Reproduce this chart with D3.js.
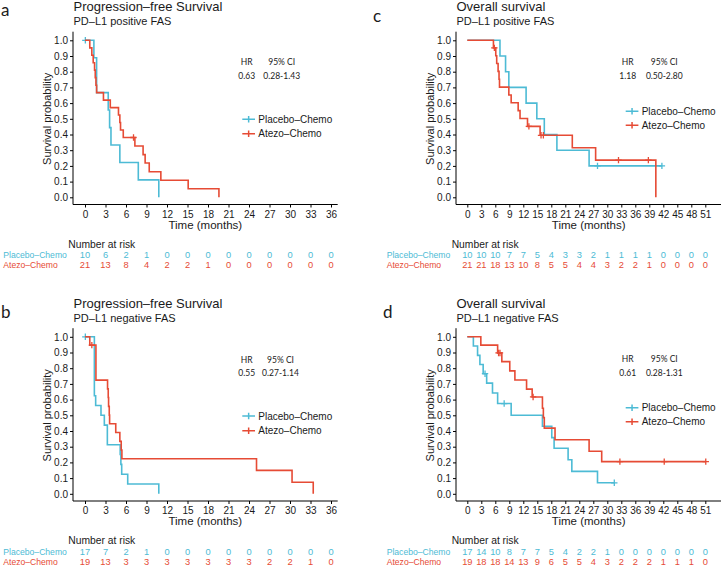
<!DOCTYPE html>
<html><head><meta charset="utf-8">
<script src="https://cdn.jsdelivr.net/npm/d3@7"></script>
<style>
body{margin:0;background:#fff}
svg{display:block}
text{font-family:"Liberation Sans",Arial,Helvetica,sans-serif;fill:#1a1a1a}
.hr{font-family:Lato,"Open Sans",sans-serif}
.letter{font-family:Lato,"Open Sans",sans-serif}
</style>
</head><body>
<svg id="chart" width="721" height="565"></svg>
<script>
// ---------- DATA ----------
const groups = ["Placebo–Chemo", "Atezo–Chemo"];
const groupColors = ["#4DBBD5", "#E64B35"];
const pfsTicks = [0,3,6,9,12,15,18,21,24,27,30,33,36];
const osTicks = [0,3,6,9,12,15,18,21,24,27,30,33,36,39,42,45,48,51];
const survTicks = [0,0.1,0.2,0.3,0.4,0.5,0.6,0.7,0.8,0.9,1.0];

// Panel a: PFS, PD-L1 positive  ([time, survival after step])
const aPlaceboSteps = [[1.3,0.889],[1.7,0.667],[3.4,0.556],[3.6,0.444],[3.8,0.333],[5.1,0.222],[7.8,0.111],[10.8,0]];
const aPlaceboCensor = [0.05];
const aAtezoSteps = [[0.7,0.952],[1.0,0.905],[1.2,0.857],[1.4,0.810],[1.5,0.762],[1.6,0.714],[1.7,0.667],[2.7,0.619],[3.7,0.571],[4.9,0.524],[5.1,0.476],[5.2,0.429],[5.6,0.381],[7.3,0.327],[8.5,0.272],[8.8,0.218],[9.4,0.163],[11.1,0.109],[15.1,0.054],[19.6,0]];
const aAtezoCensor = [7.1];
const aRiskPlacebo = [10,6,2,1,0,0,0,0,0,0,0,0,0];
const aRiskAtezo = [21,13,8,4,2,2,1,0,0,0,0,0,0];
const aHR = ["0.63", "0.28-1.43"];

// Panel b: PFS, PD-L1 negative
const bPlaceboSteps = [[1.37,0.625],[1.56,0.5625],[2.34,0.5],[2.83,0.4375],[3.27,0.3125],[5.15,0.25],[5.25,0.1875],[5.37,0.125],[6.25,0.0625],[10.8,0]];
const bPlaceboCensor = [0.05];
const bAtezoSteps = [[0.7,0.947],[1.6,0.724],[3.3,0.668],[3.4,0.613],[3.45,0.557],[3.55,0.501],[3.6,0.446],[4.5,0.390],[5.1,0.334],[5.3,0.279],[5.4,0.223],[25.1,0.149],[30.3,0.074],[33.4,0]];
const bAtezoCensor = [1.0];
const bRiskPlacebo = [17,7,2,1,0,0,0,0,0,0,0,0,0];
const bRiskAtezo = [19,13,3,3,3,3,3,3,3,2,2,1,0];
const bHR = ["0.55", "0.27-1.14"];

// Panel c: OS, PD-L1 positive
const cPlaceboSteps = [[7.0,0.9],[8.2,0.8],[8.9,0.7],[12.6,0.6],[14.9,0.5],[16.5,0.4],[19.2,0.3],[26.1,0.2]];
const cPlaceboCensor = [27.9, 41.7];
const cAtezoSteps = [[5.6,0.952],[6.1,0.902],[6.3,0.852],[6.6,0.802],[6.8,0.752],[6.9,0.702],[8.9,0.652],[9.4,0.602],[10.9,0.552],[11.3,0.502],[12.9,0.452],[15.6,0.395],[22.5,0.316],[27.5,0.237],[40.4,0]];
const cAtezoCensor = [5.8, 13.2, 15.8, 16.3, 32.4, 38.8];
const cRiskPlacebo = [10,10,10,7,7,5,4,3,3,2,1,1,1,1,0,0,0,0];
const cRiskAtezo = [21,21,18,13,10,8,5,5,4,4,3,2,2,1,0,0,0,0];
const cHR = ["1.18", "0.50-2.80"];

// Panel d: OS, PD-L1 negative
const dPlaceboSteps = [[1.3,0.941],[2.2,0.882],[2.7,0.824],[3.4,0.765],[4.15,0.705],[5.4,0.642],[6.5,0.575],[9.4,0.500],[16.1,0.430],[18.1,0.358],[18.6,0.290],[21.6,0.217],[22.4,0.143],[27.9,0.070]];
const dPlaceboCensor = [3.8, 7.9, 31.5];
const dAtezoSteps = [[2.9,0.947],[6.5,0.897],[7.4,0.842],[9.1,0.783],[10.2,0.725],[12.7,0.667],[13.9,0.617],[16.1,0.545],[16.3,0.485],[16.5,0.418],[18.8,0.344],[26.1,0.271],[28.8,0.205]];
const dAtezoCensor = [6.7, 7.0, 14.1, 32.7, 42.2, 51.1];
const dRiskPlacebo = [17,14,10,8,7,7,5,4,2,2,1,0,0,0,0,0,0,0];
const dRiskAtezo = [19,18,18,14,13,9,6,5,5,4,3,2,2,2,1,1,1,0];
const dHR = ["0.61", "0.28-1.31"];

// ---------- LAYOUT ----------
const panels = [
  {letter:"a", title:"Progression–free Survival", sub:"PD–L1 positive FAS", ticks:pfsTicks,
   steps:[aPlaceboSteps,aAtezoSteps], censor:[aPlaceboCensor,aAtezoCensor], risk:[aRiskPlacebo,aRiskAtezo], hr:aHR,
   oy:0, axL:73, axR:337.7, xr:[85,331], timeX:205.3, letterXY:[1,16], hrX:[246.7,281.7], hrY:[61.7,76], legX:242.3, legY:[119.3,133.7], riskLabX:3.3, narX:68.3},
  {letter:"c", title:"Overall survival", sub:"PD–L1 positive FAS", ticks:osTicks,
   steps:[cPlaceboSteps,cAtezoSteps], censor:[cPlaceboCensor,cAtezoCensor], risk:[cRiskPlacebo,cRiskAtezo], hr:cHR,
   oy:0, axL:456, axR:721, xr:[467.3,705.3], timeX:588.7, letterXY:[373,21.7], hrX:[627.7,664.3], hrY:[61.7,76], legX:625.7, legY:[111.3,125.3], riskLabX:386.7, narX:451.7},
  {letter:"b", title:"Progression–free Survival", sub:"PD–L1 negative FAS", ticks:pfsTicks,
   steps:[bPlaceboSteps,bAtezoSteps], censor:[bPlaceboCensor,bAtezoCensor], risk:[bRiskPlacebo,bRiskAtezo], hr:bHR,
   oy:296.5, axL:73, axR:337.7, xr:[85,331], timeX:205.3, letterXY:[1,318], hrX:[246.7,280.5], hrY:[360,373.3], legX:242.3, legY:[416,430.7], riskLabX:3.3, narX:68.3},
  {letter:"d", title:"Overall survival", sub:"PD–L1 negative FAS", ticks:osTicks,
   steps:[dPlaceboSteps,dAtezoSteps], censor:[dPlaceboCensor,dAtezoCensor], risk:[dRiskPlacebo,dRiskAtezo], hr:dHR,
   oy:296.5, axL:456, axR:721, xr:[467.3,705.3], timeX:588.7, letterXY:[383,318], hrX:[627.7,664.3], hrY:[359,373.3], legX:625.7, legY:[407.7,421.7], riskLabX:386.7, narX:451.7}
];

const svg = d3.select("#chart");

function survAt(steps, t){
  let s = 1;
  for (const [st, sv] of steps){ if (st <= t) s = sv; else break; }
  return s;
}

panels.forEach(p => {
  const g = svg.append("g");
  const oy = p.oy;
  const x = d3.scaleLinear().domain([p.ticks[0], p.ticks[p.ticks.length-1]]).range(p.xr);
  const y = d3.scaleLinear().domain([0,1]).range([197.3+oy, 40.3+oy]);
  const axisY = 204.5 + oy;

  // letter, titles
  g.append("text").attr("class","letter").attr("x",p.letterXY[0]).attr("y",p.letterXY[1])
    .attr("font-size",17).text(p.letter);
  g.append("text").attr("x",p.axL+0.5).attr("y",11+oy).attr("font-size",13).text(p.title);
  g.append("text").attr("x",p.axL+0.5).attr("y",25+oy).attr("font-size",11).text(p.sub);

  // y axis
  const yAxis = d3.axisLeft(y).tickValues(survTicks).tickFormat(d3.format(".1f")).tickSize(3).tickPadding(2);
  const ya = g.append("g").attr("transform",`translate(${p.axL},0)`).call(yAxis);
  ya.select(".domain").attr("d",`M0,${31.7+oy}V${axisY}`).attr("stroke","#000");
  ya.selectAll("text").attr("font-size",10).attr("fill","#1a1a1a").attr("font-family","Liberation Sans, Arial, sans-serif");
  ya.selectAll(".tick line").attr("stroke","#000");

  // x axis
  const xAxis = d3.axisBottom(x).tickValues(p.ticks).tickFormat(d3.format("d")).tickSize(3).tickPadding(3);
  const xa = g.append("g").attr("transform",`translate(0,${axisY})`).call(xAxis);
  xa.select(".domain").attr("d",`M${p.axL},0H${p.axR}`).attr("stroke","#000");
  xa.selectAll("text").attr("font-size",10).attr("fill","#1a1a1a").attr("font-family","Liberation Sans, Arial, sans-serif");
  xa.selectAll(".tick line").attr("stroke","#000");

  // labels
  g.append("text").attr("x",p.timeX).attr("y",228.7+oy)
    .attr("text-anchor","middle").attr("font-size",11.5).text("Time (months)");
  g.append("text").attr("transform",`translate(${p.axL-22.5},${(y(0)+y(1))/2}) rotate(-90)`)
    .attr("text-anchor","middle").attr("font-size",11).text("Survival probability");

  // HR
  g.append("text").attr("class","hr").attr("x",p.hrX[0]).attr("y",p.hrY[0]+3).attr("text-anchor","middle").attr("font-size",8.5).text("HR");
  g.append("text").attr("class","hr").attr("x",p.hrX[1]).attr("y",p.hrY[0]+3).attr("text-anchor","middle").attr("font-size",8.5).text("95% CI");
  g.append("text").attr("class","hr").attr("x",p.hrX[0]).attr("y",p.hrY[1]+3).attr("text-anchor","middle").attr("font-size",8.5).text(p.hr[0]);
  g.append("text").attr("class","hr").attr("x",p.hrX[1]).attr("y",p.hrY[1]+3).attr("text-anchor","middle").attr("font-size",8.5).text(p.hr[1]);

  // curves
  const line = d3.line().x(d=>x(d[0])).y(d=>y(d[1])).curve(d3.curveStepAfter);
  [0,1].forEach(i => {
    const steps = p.steps[i];
    const cens = p.censor[i];
    const last = steps[steps.length-1];
    const end = Math.max(last[0], d3.max(cens));
    const pts = [[0,1], ...steps, [end, last[1]]];
    g.append("path").attr("d",line(pts)).attr("fill","none").attr("stroke",groupColors[i])
      .attr("stroke-width",1.6).attr("stroke-linejoin","miter");
    cens.forEach(t => {
      const cx = x(t), cy = y(survAt(steps,t));
      g.append("path").attr("d",`M${cx},${cy-3.2}V${cy+3.2}M${cx-3.2},${cy}H${cx+3.2}`)
        .attr("stroke",groupColors[i]).attr("stroke-width",1.3);
    });
  });

  // legend
  groups.forEach((name,i) => {
    const ly = p.legY[i];
    g.append("path").attr("d",`M${p.legX},${ly}H${p.legX+12.7}M${p.legX+6.35},${ly-3.2}V${ly+3.2}`)
      .attr("stroke",groupColors[i]).attr("stroke-width",1.5);
    g.append("text").attr("x",p.legX+16).attr("y",ly+3.6).attr("font-size",10).text(name);
  });

  // risk table
  g.append("text").attr("x",p.narX).attr("y",247.6+oy).attr("font-size",10.3).text("Number at risk");
  const rowY = [258.3+oy, 268+oy];
  groups.forEach((name,i) => {
    g.append("text").attr("x",p.riskLabX).attr("y",rowY[i]).attr("font-size",8.6)
      .style("fill",groupColors[i]).text(name);
    p.risk[i].forEach((v,k) => {
      g.append("text").attr("x",x(p.ticks[k])).attr("y",rowY[i]).attr("text-anchor","middle")
        .attr("font-size",9.3).style("fill",groupColors[i]).text(v);
    });
  });
});
</script>
</body></html>
